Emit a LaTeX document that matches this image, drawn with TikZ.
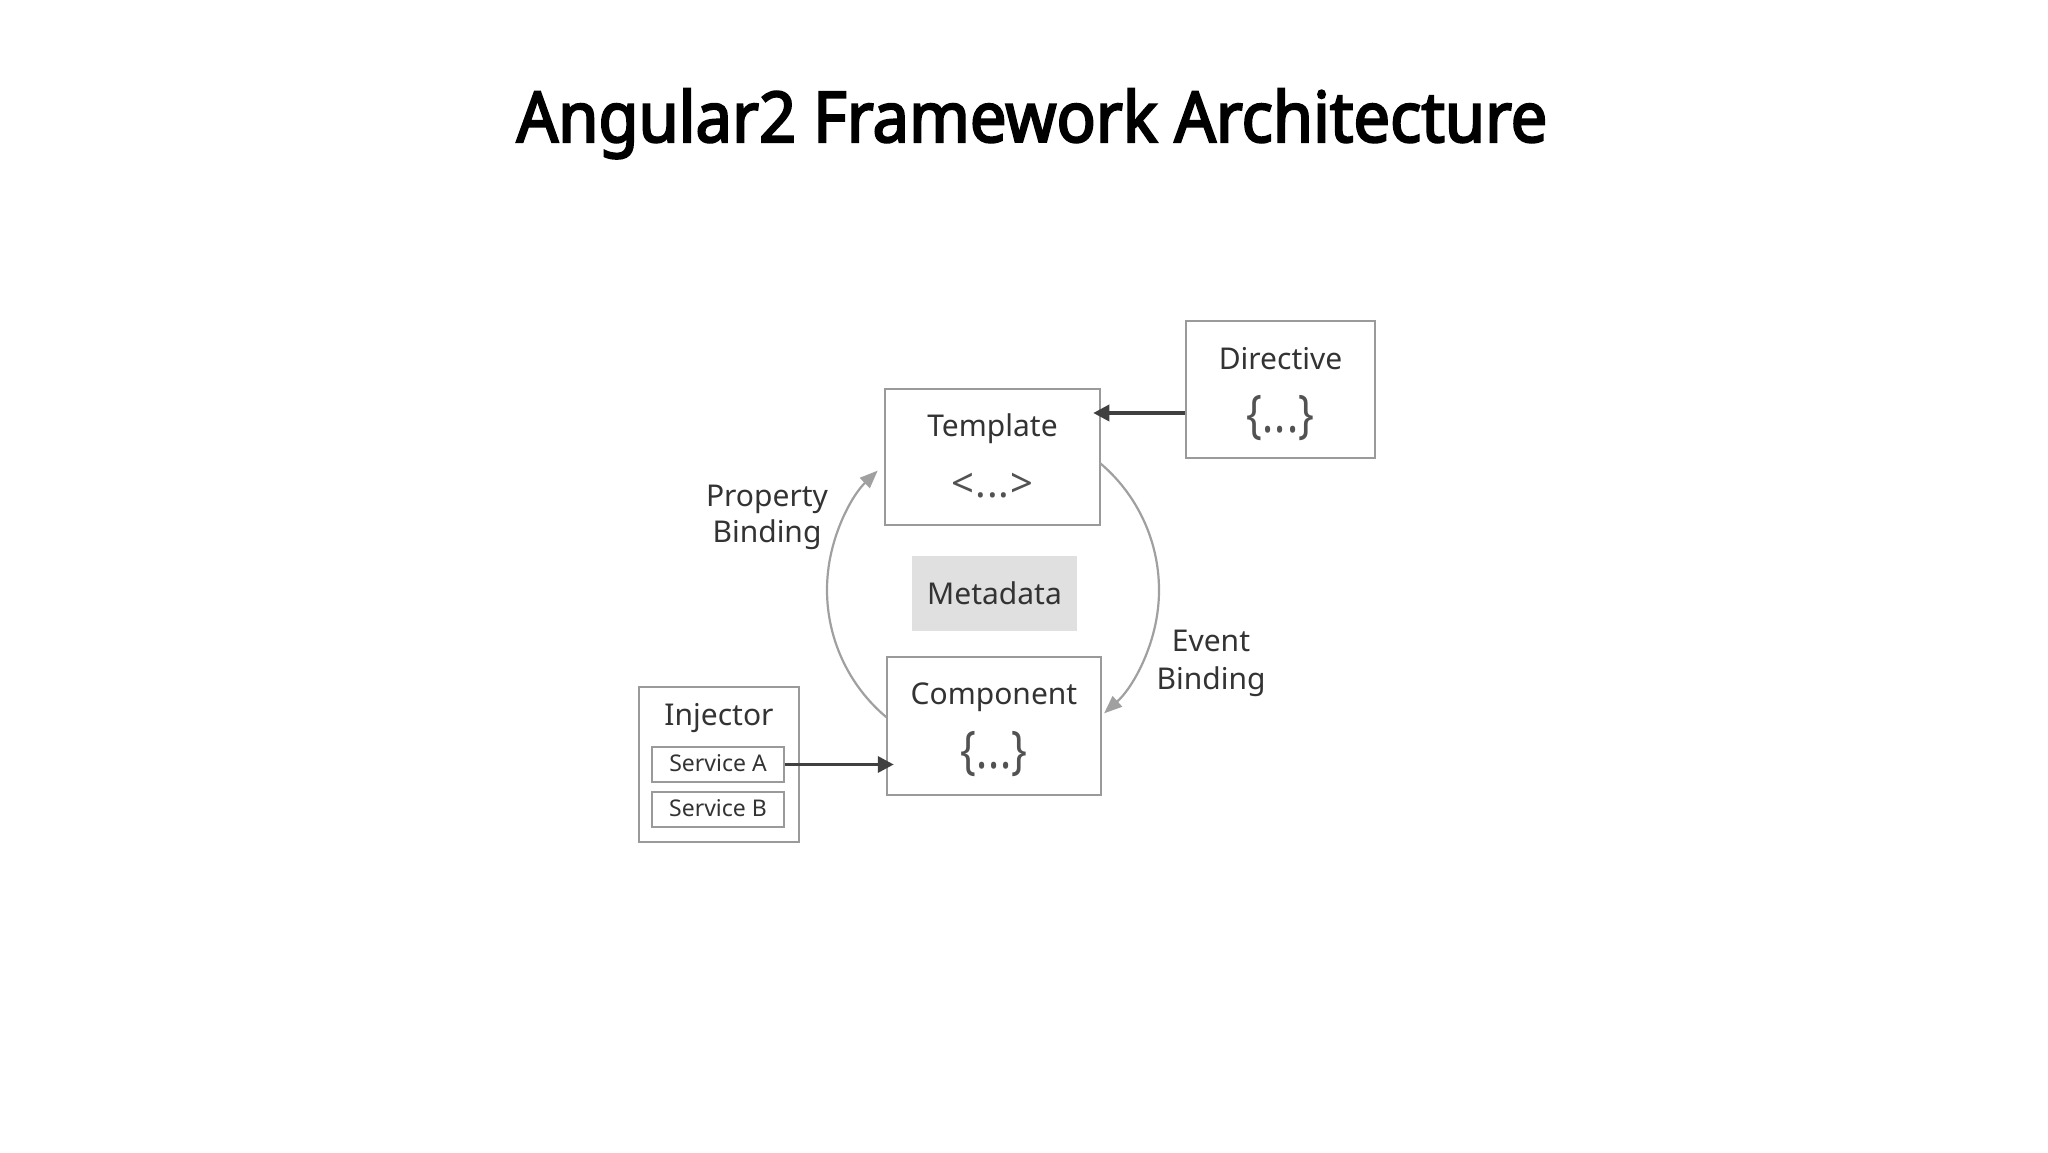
\documentclass[tikz,border=0pt]{standalone}
\usepackage{fontspec}
\setmainfont{Noto Sans}
\newfontfamily\titlefont{Noto Sans}[FakeStretch=0.93, FakeBold=3]
\newfontfamily\bracefont{Noto Sans}[FakeStretch=0.8]
\usetikzlibrary{arrows.meta}
\definecolor{txt}{HTML}{333333}
\definecolor{boxgray}{HTML}{9A9A9A}
\definecolor{arcgray}{HTML}{A0A0A0}
\definecolor{arrdark}{HTML}{404040}
\definecolor{metafill}{HTML}{E0E0E0}
\begin{document}
\begin{tikzpicture}[x=1pt,y=1pt,
  box/.style={draw=boxgray, line width=2.5pt, inner sep=0pt},
  sbox/.style={draw=boxgray, line width=2pt, inner sep=0pt, minimum width=132pt, minimum height=35pt},
  lbl/.style={text=txt, anchor=base, inner sep=0pt, font=\fontsize{30}{36}\selectfont},
  sym/.style={text=txt!85!white, anchor=base, inner sep=0pt, font=\fontsize{40}{48}\selectfont},
  brc/.style={text=txt!85!white, anchor=base, inner sep=0pt, font=\bracefont\fontsize{52}{60}\selectfont},
  slbl/.style={text=txt, anchor=base, inner sep=0pt, font=\fontsize{23}{28}\selectfont},
  darr/.style={draw=arrdark, line width=3.5pt, shorten >=-8pt, -{Triangle[length=16pt,width=16pt]}},
  arcline/.style={draw=arcgray, line width=2.2pt, -{Triangle[length=18pt,width=14pt]}}]
\useasboundingbox (0,0) rectangle (2048,1152);
\fill[white] (0,0) rectangle (2048,1152);
% title
\node[anchor=base, inner sep=0pt, font=\titlefont\fontsize{70}{80}\selectfont] (title) at (1032,1010) {Angular2 Framework Architecture};
% boxes
\node[box, minimum width=215pt, minimum height=136pt] (tpl) at (992.5,695) {};
\node[box, minimum width=189pt, minimum height=137pt] (dir) at (1280.5,762.5) {};
\node[fill=metafill, inner sep=0pt, minimum width=165pt, minimum height=75pt] (meta) at (994.5,558.5) {};
\node[box, minimum width=214pt, minimum height=138pt] (comp) at (994,426) {};
\node[box, minimum width=160pt, minimum height=155pt] (inj) at (719,387.5) {};
\node[sbox] (sa) at (718,387.5) {};
\node[sbox] (sb) at (718,342.5) {};
% texts
\node[lbl] (tplT) at ([yshift=20pt]tpl.center) {Template};
\node[sym] (tplS) at ([yshift=-41pt]tpl.center) {<\kern1pt.\kern1pt.\kern1pt.\kern1pt>};
\node[lbl] (dirT) at ([yshift=20pt]dir.center) {Directive};
\node[brc] (dirS) at ([yshift=-43.5pt]dir.center) {\{.\kern1pt.\kern1pt.\}};
\node[lbl] (metaT) at (994.5,547) {Metadata};
\node[lbl] (compT) at ([yshift=21pt]comp.center) {Component};
\node[brc] (compS) at ([yshift=-43pt]comp.center) {\{.\kern1pt.\kern1pt.\}};
\node[lbl] (injT) at (719,426) {Injector};
\node[slbl] (saT) at (718,380) {Service A};
\node[slbl] (sbT) at (718,335) {Service B};
\node[lbl] (pb1) at (767,645) {Property};
\node[lbl] (pb2) at (767,609) {Binding};
\node[lbl] (eb1) at (1211,500) {Event};
\node[lbl] (eb2) at (1211,462) {Binding};
% connectors
\coordinate (dA) at ([yshift=-23.5pt]dir.west);
\draw[darr] (dA) -- (dA -| tpl.east);
\draw[darr] (sa.east) -- (sa.east -| comp.west);
\coordinate (cc) at (993,562);
\draw[arcline] ([shift={(230:166)}]cc) arc[start angle=230,end angle=134,radius=166];
\draw[arcline] ([shift={(50:166)}]cc) arc[start angle=50,end angle=-48,radius=166];
\end{tikzpicture}
\end{document}
